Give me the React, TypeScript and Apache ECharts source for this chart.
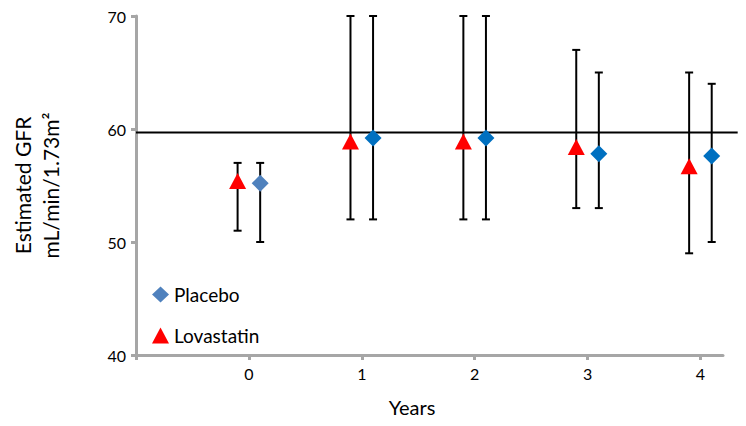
import React, { useEffect, useRef } from "react";
import * as echarts from "echarts";

const years = [0, 1, 2, 3, 4];
const lovastatinMean = [55.4, 58.9, 58.9, 58.4, 56.7];
const lovastatinLow = [51, 52, 52, 53, 49];
const lovastatinHigh = [57, 70, 70, 67, 65];
const placeboMean = [55.2, 59.2, 59.2, 57.8, 57.6];
const placeboLow = [50, 52, 52, 53, 50];
const placeboHigh = [57, 70, 70, 65, 64];
const placeboColors = ["#4f81bd", "#0070c0", "#0070c0", "#0070c0", "#0070c0"];
const groupOffset = 0.1;
const referenceLevel = 59.7;
const referenceSpan = [-1, 4.33];
const xTicks = [-1, 0, 1, 2, 3, 4];
const xLabels = [0, 1, 2, 3, 4];

const FONT = "Lato, 'Open Sans', sans-serif";

export default function App() {
  const ref = useRef<HTMLDivElement>(null);
  useEffect(() => {
    document.body.style.margin = "0";
    if (!ref.current) return;
    const chart = echarts.init(ref.current, null, { renderer: "svg" });

    const lovX = years.map((y) => y - groupOffset);
    const plaX = years.map((y) => y + groupOffset);

    const errData = [
      ...lovX.map((x, i) => [x, lovastatinLow[i], lovastatinHigh[i]]),
      ...plaX.map((x, i) => [x, placeboLow[i], placeboHigh[i]]),
    ];

    const renderErr = (params: any, api: any) => {
      const x = api.value(0);
      const lo = api.coord([x, api.value(1)]);
      const hi = api.coord([x, api.value(2)]);
      const hw = 4;
      const style = { stroke: "#000", lineWidth: 2 };
      return {
        type: "group",
        children: [
          { type: "line", shape: { x1: hi[0], y1: hi[1], x2: lo[0], y2: lo[1] }, style },
          { type: "line", shape: { x1: hi[0] - hw, y1: hi[1], x2: hi[0] + hw, y2: hi[1] }, style },
          { type: "line", shape: { x1: lo[0] - hw, y1: lo[1], x2: lo[0] + hw, y2: lo[1] }, style },
        ],
      };
    };

    const renderRef = (params: any, api: any) => {
      const a = api.coord([api.value(0), api.value(2)]);
      const b = api.coord([api.value(1), api.value(2)]);
      return {
        type: "line",
        shape: { x1: a[0], y1: a[1], x2: b[0], y2: b[1] },
        style: { stroke: "#000", lineWidth: 2 },
      };
    };

    chart.setOption({
      animation: false,
      textStyle: { fontFamily: FONT },
      grid: { left: 132, right: 23, top: 16, bottom: 71 },
      legend: {
        orient: "vertical",
        left: 147,
        top: 280,
        itemWidth: 17,
        itemHeight: 16,
        itemGap: 22,
        textStyle: { fontSize: 19, color: "#000", fontFamily: FONT },
        data: [
          { name: "Placebo", icon: "diamond", itemStyle: { color: "#4f81bd", opacity: 1 } },
          { name: "Lovastatin", icon: "triangle", itemStyle: { color: "#ff0000", opacity: 1 } },
        ],
      },
      xAxis: {
        type: "value",
        min: -1,
        max: 4.2,
        interval: 1,
        name: "Years",
        nameLocation: "middle",
        nameGap: 42,
        nameTextStyle: { fontSize: 20, color: "#000", fontFamily: FONT, padding: [0, 35, 0, 0] },
        splitLine: { show: false },
        axisLine: { show: true, onZero: false, lineStyle: { color: "#a6a6a6", width: 3 } },
        axisTick: { show: true, length: 5, lineStyle: { color: "#a6a6a6", width: 3 }, customValues: xTicks },
        axisLabel: { fontSize: 16, color: "#000", margin: 10, customValues: xLabels, fontFamily: FONT },
      },
      yAxis: {
        type: "value",
        min: 40,
        max: 70,
        interval: 10,
        name: "Estimated GFR\nmL/min/1.73m²",
        nameLocation: "middle",
        nameGap: 72,
        nameTextStyle: { fontSize: 21, color: "#000", lineHeight: 28, fontFamily: FONT },
        splitLine: { show: false },
        axisLine: { show: true, onZero: false, lineStyle: { color: "#a6a6a6", width: 3 } },
        axisTick: { show: true, length: 5, lineStyle: { color: "#a6a6a6", width: 3 } },
        axisLabel: { fontSize: 16, color: "#000", margin: 10, fontFamily: FONT },
      },
      series: [
        {
          type: "custom",
          name: "reference",
          data: [[referenceSpan[0], referenceSpan[1], referenceLevel]],
          encode: { x: [0, 1], y: 2 },
          renderItem: renderRef,
          clip: false,
          z: 1,
          silent: true,
        },
        {
          type: "custom",
          name: "errors",
          data: errData,
          encode: { x: 0, y: [1, 2] },
          renderItem: renderErr,
          z: 2,
          silent: true,
        },
        {
          type: "scatter",
          name: "Lovastatin",
          symbol: "triangle",
          symbolSize: [17, 16],
          itemStyle: { color: "#ff0000", opacity: 1 },
          data: lovX.map((x, i) => [x, lovastatinMean[i]]),
          z: 3,
        },
        {
          type: "scatter",
          name: "Placebo",
          symbol: "diamond",
          symbolSize: [17, 17],
          itemStyle: { color: "#4f81bd", opacity: 1 },
          data: plaX.map((x, i) => ({ value: [x, placeboMean[i]], itemStyle: { color: placeboColors[i], opacity: 1 } })),
          z: 3,
        },
      ],
    });
    return () => chart.dispose();
  }, []);
  return <div ref={ref} style={{ width: 746, height: 426 }} />;
}
